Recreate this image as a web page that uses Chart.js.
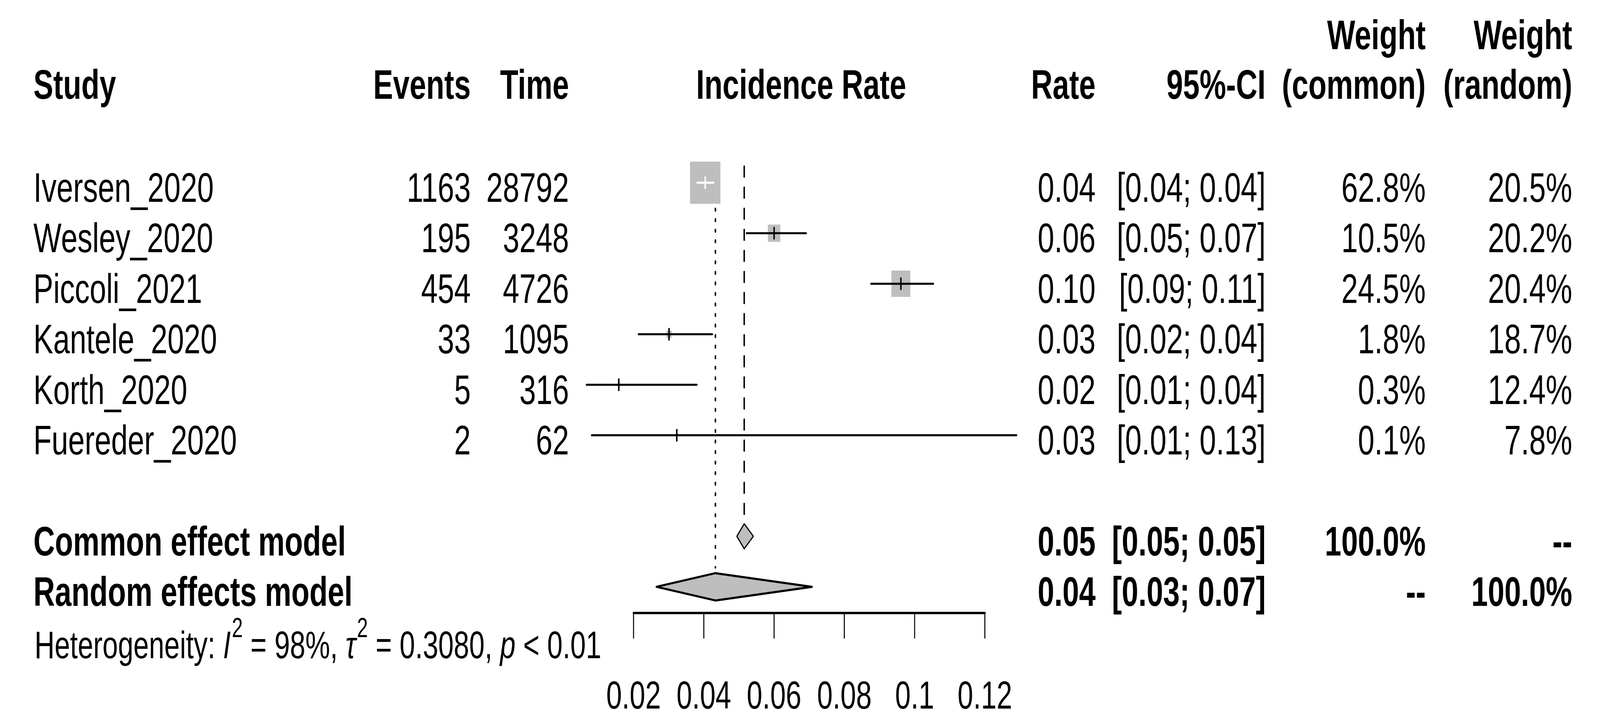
<!DOCTYPE html>
<html>
<head>
<meta charset="utf-8">
<script src="https://cdn.jsdelivr.net/npm/chart.js@4.4.1/dist/chart.umd.min.js"></script>
<style>
  html, body { margin: 0; padding: 0; background: #fff; overflow: hidden; }
  #outer { position: relative; overflow: hidden; }
  #wrap { width: 5700px; height: 1852px; transform-origin: 0 0; }
</style>
</head>
<body>
<div id="outer"><div id="wrap"><canvas id="forest" width="5700" height="1852"></canvas></div></div>
<script>
// study level data
const studies = ['Iversen_2020', 'Wesley_2020', 'Piccoli_2021', 'Kantele_2020', 'Korth_2020', 'Fuereder_2020'];
const events = [1163, 195, 454, 33, 5, 2];
const times = [28792, 3248, 4726, 1095, 316, 62];
const rates = [0.0404, 0.0600, 0.0961, 0.0301, 0.0158, 0.0323];
const lowers = [0.0381, 0.0522, 0.0876, 0.0214, 0.0066, 0.0081];
const uppers = [0.0428, 0.0691, 0.1053, 0.0424, 0.0380, 0.1290];
const weightCommon = [62.8, 10.5, 24.5, 1.8, 0.3, 0.1];
const weightRandom = [20.5, 20.2, 20.4, 18.7, 12.4, 7.8];

// pooled estimates
const models = ['Common effect model', 'Random effects model'];
const modelRates = [0.0515, 0.0433];
const modelLowers = [0.0494, 0.0265];
const modelUppers = [0.0541, 0.0708];
const modelWeightCommon = ['100.0%', '--'];
const modelWeightRandom = ['--', '100.0%'];

// heterogeneity
const hetI2 = '98%';
const hetTau2 = '0.3080';
const hetP = '< 0.01';

// x axis
const tickValues = [0.02, 0.04, 0.06, 0.08, 0.10, 0.12];
const tickLabels = ['0.02', '0.04', '0.06', '0.08', '0.1', '0.12'];

// the window is narrower than 5700 px, so stretch the drawing onto the viewport
const vw = document.documentElement.clientWidth || window.innerWidth;
const vh = window.innerHeight || 1852;
const outer = document.getElementById('outer');
outer.style.width = vw + 'px';
outer.style.height = vh + 'px';
document.getElementById('wrap').style.transform = 'scale(' + (vw / 5700) + ',' + (vh / 1852) + ')';

const FONT = '"Liberation Sans", Arial, Helvetica, sans-serif';
const GREY = '#bebebe';
const modelRow = j => studies.length + 1 + j;
const boxSide = w => 108 * Math.sqrt(w / 62.8);

// CI drawn white when it fits inside the box
function ciColor(chart, i) {
  const xs = chart.scales.x;
  const c = xs.getPixelForValue(rates[i]);
  const h = boxSide(weightCommon[i]) / 2;
  const inside = xs.getPixelForValue(lowers[i]) > c - h && xs.getPixelForValue(uppers[i]) < c + h;
  return inside ? '#ffffff' : '#000000';
}

const ciSets = studies.map((s, i) => ({
  label: s,
  data: [{x: lowers[i], y: i}, {x: uppers[i], y: i}],
  showLine: true,
  borderColor: ctx => ciColor(ctx.chart, i),
  borderWidth: 5.3,
  borderCapStyle: 'round',
  pointRadius: 0,
  order: 2
}));

const forestTable = {
  id: 'forestTable',
  afterDatasetsDraw(chart) {
    const {ctx, scales: {x, y}} = chart;
    // diamonds
    modelRates.forEach((r, j) => {
      const cy = y.getPixelForValue(modelRow(j));
      const hh = j === 0 ? 32 : 35;
      ctx.save();
      ctx.beginPath();
      ctx.moveTo(x.getPixelForValue(modelLowers[j]), cy);
      ctx.lineTo(x.getPixelForValue(r), cy - hh);
      ctx.lineTo(x.getPixelForValue(modelUppers[j]), cy);
      ctx.lineTo(x.getPixelForValue(r), cy + hh);
      ctx.closePath();
      ctx.fillStyle = GREY;
      ctx.fill();
      ctx.lineWidth = j === 0 ? 3.6 : 5.5;
      ctx.lineJoin = 'round';
      ctx.strokeStyle = '#000';
      ctx.stroke();
      ctx.restore();
    });

    // axis
    const axisY = y.getPixelForValue(modelRow(1)) + 67;
    const x0 = x.getPixelForValue(tickValues[0]);
    const x1 = x.getPixelForValue(tickValues[tickValues.length - 1]);
    ctx.save();
    ctx.strokeStyle = '#000';
    ctx.lineCap = 'round';
    ctx.lineWidth = 6;
    ctx.beginPath();
    ctx.moveTo(x0, axisY);
    ctx.lineTo(x1, axisY);
    ctx.stroke();
    ctx.lineWidth = 3.6;
    ctx.font = '100px ' + FONT;
    ctx.fillStyle = '#000';
    ctx.textAlign = 'center';
    ctx.textBaseline = 'alphabetic';
    tickValues.forEach((v, n) => {
      const px = x.getPixelForValue(v);
      ctx.beginPath();
      ctx.moveTo(px, axisY);
      ctx.lineTo(px, axisY + 64);
      ctx.stroke();
      ctx.fillText(tickLabels[n], px, axisY + 245);
    });
    ctx.restore();
  },
  afterDraw(chart) {
    const {ctx, scales: {y}} = chart;
    const col = {study: 119, events: 1677, time: 2027, plot: 2854, rate: 3903, ci: 4509, wc: 5079, wr: 5601};
    const reg = '106px ' + FONT;
    const bold = 'bold 106px ' + FONT;
    const base = row => y.getPixelForValue(row) + 49;
    const put = (t, px, py, align, font) => {
      ctx.font = font;
      ctx.textAlign = align;
      ctx.fillText(t, px, py);
    };
    ctx.save();
    ctx.fillStyle = '#000';
    ctx.textBaseline = 'alphabetic';

    // header
    const h1 = y.getPixelForValue(0) - 342;
    const h2 = y.getPixelForValue(0) - 215;
    put('Weight', col.wc, h1, 'right', bold);
    put('Weight', col.wr, h1, 'right', bold);
    put('Study', col.study, h2, 'left', bold);
    put('Events', col.events, h2, 'right', bold);
    put('Time', col.time, h2, 'right', bold);
    put('Incidence Rate', col.plot, h2, 'center', bold);
    put('Rate', col.rate, h2, 'right', bold);
    put('95%-CI', col.ci, h2, 'right', bold);
    put('(common)', col.wc, h2, 'right', bold);
    put('(random)', col.wr, h2, 'right', bold);

    // studies
    studies.forEach((s, i) => {
      const b = base(i);
      put(s, col.study, b, 'left', reg);
      put(String(events[i]), col.events, b, 'right', reg);
      put(String(times[i]), col.time, b, 'right', reg);
      put(rates[i].toFixed(2), col.rate, b, 'right', reg);
      put('[' + lowers[i].toFixed(2) + '; ' + uppers[i].toFixed(2) + ']', col.ci, b, 'right', reg);
      put(weightCommon[i].toFixed(1) + '%', col.wc, b, 'right', reg);
      put(weightRandom[i].toFixed(1) + '%', col.wr, b, 'right', reg);
    });

    // pooled rows
    models.forEach((m, j) => {
      const b = base(modelRow(j));
      put(m, col.study, b, 'left', bold);
      put(modelRates[j].toFixed(2), col.rate, b, 'right', bold);
      put('[' + modelLowers[j].toFixed(2) + '; ' + modelUppers[j].toFixed(2) + ']', col.ci, b, 'right', bold);
      put(modelWeightCommon[j], col.wc, b, 'right', bold);
      put(modelWeightRandom[j], col.wr, b, 'right', bold);
    });

    // heterogeneity line
    const hb = base(modelRow(2)) + 4;
    const hs = 99;
    const parts = [
      ['Heterogeneity: ', ''], ['I', 'italic '], ['2', 'sup'], [' = ' + hetI2 + ', ', ''],
      ['\u03c4', 'italic '], ['2', 'sup'], [' = ' + hetTau2 + ', ', ''], ['p', 'italic '], [' ' + hetP, '']
    ];
    let hx = col.study + 4;
    ctx.textAlign = 'left';
    parts.forEach(([t, st]) => {
      if (st === 'sup') {
        ctx.font = '70px ' + FONT;
        ctx.fillText(t, hx + 4, hb - 54);
        hx += ctx.measureText(t).width + 4;
      } else {
        ctx.font = st + hs + 'px ' + FONT;
        ctx.fillText(t, hx, hb);
        hx += ctx.measureText(t).width;
      }
    });
    ctx.restore();
  }
};

new Chart(document.getElementById('forest'), {
  type: 'scatter',
  data: {
    datasets: [
      {
        label: 'ticks',
        data: studies.map((s, i) => ({x: rates[i], y: i})),
        pointStyle: 'line',
        rotation: 90,
        pointRadius: 16,
        borderWidth: 5.3,
        pointBorderColor: ctx => ciColor(ctx.chart, ctx.dataIndex),
        order: 1
      },
      ...ciSets,
      {
        label: 'boxes',
        data: studies.map((s, i) => ({x: rates[i], y: i})),
        pointStyle: 'rect',
        pointRadius: ctx => boxSide(weightCommon[ctx.dataIndex]) / Math.SQRT2,
        backgroundColor: GREY,
        borderWidth: 0,
        order: 4
      },
      {
        label: 'common',
        data: [{x: modelRates[0], y: -0.32}, {x: modelRates[0], y: modelRow(0) - 0.27}],
        showLine: true,
        borderColor: '#000',
        borderWidth: 5.5,
        borderCapStyle: 'round',
        borderDash: [26, 28],
        pointRadius: 0,
        order: 5
      },
      {
        label: 'random',
        data: [{x: modelRates[1], y: -0.32}, {x: modelRates[1], y: modelRow(1) - 0.38}],
        showLine: true,
        borderColor: '#000',
        borderWidth: 5.5,
        borderCapStyle: 'round',
        borderDash: [5, 22],
        pointRadius: 0,
        order: 5
      }
    ]
  },
  options: {
    responsive: false,
    devicePixelRatio: 1,
    animation: false,
    layout: { padding: 0, autoPadding: false },
    plugins: { legend: { display: false }, tooltip: { enabled: false } },
    scales: {
      x: { type: 'linear', display: false, min: -0.16033, max: 0.29509 },
      y: { type: 'linear', display: false, reverse: true, min: -3.6167, max: 10.696 }
    }
  },
  plugins: [forestTable]
});
</script>
</body>
</html>
